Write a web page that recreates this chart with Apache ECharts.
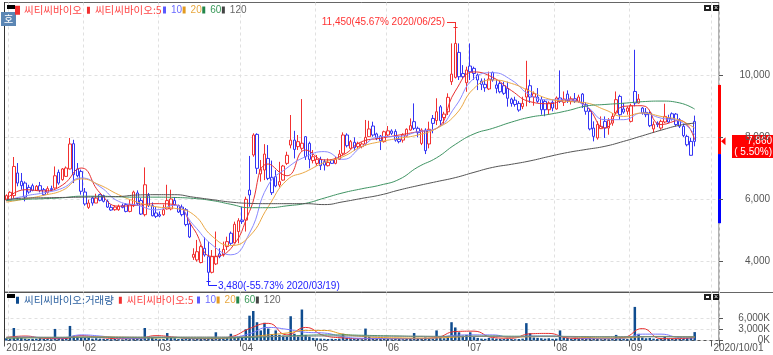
<!DOCTYPE html>
<html>
<head>
<meta charset="utf-8">
<style>html,body{margin:0;padding:0;background:#fff}#chart{width:773px;height:355px}</style>
<script src="https://cdn.jsdelivr.net/npm/echarts@6/dist/echarts.min.js"></script>
</head>
<body>
<div id="chart"></div>
<script>
// trading days per month, the tail after 09/25 is empty room on the axis
const tradingDays = [
  ['2019/12', [30]],
  ['2020/01', [2,3,6,7,8,9,10,13,14,15,16,17,20,21,22,23,28,29,30,31]],
  ['2020/02', [3,4,5,6,7,10,11,12,13,14,17,18,19,20,21,24,25,26,27,28]],
  ['2020/03', [2,3,4,5,6,9,10,11,12,13,16,17,18,19,20,23,24,25,26,27,30,31]],
  ['2020/04', [1,2,3,6,7,8,9,10,13,14,16,17,20,21,22,23,24,27,28,29]],
  ['2020/05', [4,6,7,8,11,12,13,14,15,18,19,20,21,22,25,26,27,28,29]],
  ['2020/06', [1,2,3,4,5,8,9,10,11,12,15,16,17,18,19,22,23,24,25,26,29,30]],
  ['2020/07', [1,2,3,6,7,8,9,10,13,14,15,16,17,20,21,22,23,24,27,28,29,30,31]],
  ['2020/08', [3,4,5,6,7,10,11,12,13,14,18,19,20,21,24,25,26,27,28,31]],
  ['2020/09', [1,2,3,4,7,8,9,10,11,14,15,16,17,18,21,22,23,24,25,28,29,30]],
  ['2020/10', [1,2]]
]
const dates = []
tradingDays.forEach(m => m[1].forEach(d => dates.push(m[0] + '/' + String(d).padStart(2, '0'))))

const tickDates = ['2019/12/30','2020/02/03','2020/03/02','2020/04/01','2020/05/04','2020/06/01','2020/07/01','2020/08/03','2020/09/01','2020/10/01']
const tickLabels = ['2019/12/30','02','03','04','05','06','07','08','09','2020/10/01']
const gridDates = ['2020/01/02','2020/02/03','2020/03/02','2020/04/01','2020/05/04','2020/06/01','2020/07/01','2020/08/03','2020/09/01','2020/10/01']
const priceTicks = [4000, 6000, 8000, 10000]
const volumeTicks = [0, 3000, 6000]

const opens = [5970,5980,6110,6840,6570,6515,6375,6430,6280,6430,
  6300,6215,6335,6355,6860,6625,6730,6970,7785,6970,
  6890,6225,5730,6030,5870,6140,6110,5925,5730,5655,
  5655,5785,5820,5600,5785,6195,5950,5495,6110,5785,
  5550,5495,5495,5680,5680,5950,5785,5740,5655,5195,
  4120,4035,3950,4410,4140,3635,3905,4230,4195,4465,
  4895,4590,4950,5320,5320,6290,7420,8085,6810,6935,
  7310,6700,6720,6450,6610,7150,7740,7900,7690,7635,
  8010,7795,7240,7150,7280,7205,7075,7260,7150,7280,
  7475,8065,7635,7830,7690,7690,7775,8010,8355,8100,
  8030,7850,8065,8195,8180,7925,7900,8030,8225,8495,
  8280,7795,8225,7775,8600,8530,8975,8630,8815,9785,
  9925,10730,10050,9750,10290,10215,10000,9805,9700,9550,
  10085,9680,9730,9655,9570,9225,9190,9085,8980,9290,
  9655,9290,9290,9205,9150,8880,9120,8905,9260,9120,
  9385,9150,9235,9150,9385,9040,8830,8290,7970,8270,
  8505,8290,8450,8775,9310,8905,8830,8505,9470,9095,
  8935,8795,8775,8260,8450,8290,8485,8610,8750,8740,
  8560,8345,8020,7860,8505]
const closes = [6110,6215,7050,6515,6430,6065,6225,6280,6410,6280,
  6140,6335,6300,6750,6515,6970,7000,7775,6785,6750,
  6250,5840,5870,5870,6030,5960,5925,5740,5645,5740,
  5765,5730,5600,5820,6225,5850,5515,6460,5785,5460,
  5440,5450,5655,5950,6000,5820,5580,5495,5175,4775,
  4215,4300,4465,4195,3635,4140,4140,4140,4375,4625,
  4570,5185,5300,5270,5990,6130,8065,6990,6960,7450,
  6665,6205,6420,6560,7065,7410,7900,7600,7850,7800,
  7365,7280,7365,7280,7075,7095,7180,7150,7280,7450,
  8065,7720,7850,7655,7795,7775,7990,8260,8065,7960,
  7880,8170,8200,8120,7900,7850,8065,8250,8365,8280,
  8140,8225,7560,8250,8440,8815,8530,8740,9280,10030,
  11020,9945,9945,10160,10105,10050,9840,9700,9590,9870,
  9840,9570,9460,9410,9250,9085,9050,8870,9085,9550,
  9290,9400,9150,8880,8880,9100,8935,9260,9150,9225,
  9180,9235,9150,9290,9075,8830,8260,8020,8400,8345,
  8290,8540,8665,9205,8720,8805,8935,9010,9095,9225,
  8775,8720,8365,8400,8400,8505,8665,8485,8580,8400,
  8345,8045,7750,7410,7860]
const lows = [5930,5960,6030,6410,6300,5925,6170,6250,6260,6215,
  6110,6170,6250,6335,6460,6590,6710,6950,6515,6700,
  6140,5785,5680,5785,5870,5925,5890,5710,5620,5620,
  5620,5700,5570,5570,5740,5785,5485,5440,5740,5440,
  5385,5410,5460,5660,5635,5785,5550,5440,5120,4740,
  4035,3980,3925,4140,3480,3600,3870,4090,4140,4355,
  4520,4570,4570,5195,4950,5750,7365,6810,6560,6610,
  6610,6130,6380,6380,6590,7100,7635,7310,7580,7560,
  7260,6990,7150,7075,6935,6920,7050,7130,7120,7260,
  7420,7665,7600,7560,7635,7635,7720,8000,8010,7900,
  7580,7820,8030,8065,7850,7795,7820,8010,8200,8225,
  7990,7740,7450,7635,8120,8385,8385,8420,8710,9680,
  9890,9840,9890,9460,9840,9840,9515,9515,9460,9515,
  9785,9410,9410,9360,8980,8980,8980,8815,8900,8990,
  9100,9010,9100,8720,8670,8720,8830,8880,9100,9000,
  9100,9050,9100,9100,8935,8720,8215,7860,7915,8260,
  7970,8075,8365,8720,8560,8750,8720,8470,8990,9075,
  8720,8640,8320,8130,8320,8235,8450,8450,8530,8345,
  8290,8000,7700,7400,7700]
const highs = [6150,6250,7355,7160,6840,6570,6460,6495,6450,6550,
  6355,6410,6430,7050,6950,7000,7050,7970,7910,7160,
  6950,6355,5980,6085,6170,6170,6140,5980,5820,5785,
  5820,5850,5870,5980,6270,6280,6030,7020,6195,5890,
  5740,5600,5820,6460,6300,6065,5820,5820,5710,5230,
  4410,4680,4520,4765,4625,4355,4950,4410,4625,4785,
  4950,5270,5380,5750,6075,7390,8120,8120,7260,7770,
  7740,7240,6930,7200,7100,7525,8710,8200,8065,9225,
  8030,7850,7580,7420,7365,7280,7310,7280,7365,7580,
  8150,8120,7905,7990,7850,7830,8550,8525,8495,8140,
  8065,8205,8355,8250,8250,8010,8120,8280,8600,9085,
  8335,8280,8280,8495,8710,9250,9030,8815,9410,11020,
  11450,11020,10320,10270,11020,10270,10050,9890,9890,10110,
  10110,9840,9840,9785,9785,9270,9300,9160,9300,10460,
  9850,9470,9580,9310,9205,9150,9185,9310,10150,9470,
  9505,9310,9420,9365,9420,9120,8935,8505,8505,8665,
  8665,8610,8775,9470,9365,9100,8990,9075,10815,9385,
  8970,8935,8830,8505,8505,8560,9075,8720,8795,8775,
  8610,8430,8075,7970,8690]

const volumes = [600,500,3350,900,700,500,400,450,500,600,
  450,400,350,3100,800,600,900,3900,1300,1000,
  900,800,700,500,600,500,450,400,350,400,
  350,300,400,350,500,450,400,3350,900,700,
  500,350,400,2000,900,600,400,450,500,400,
  350,500,600,500,700,800,2200,600,500,700,
  1800,800,900,1000,3000,6650,7900,4900,2700,4750,
  3200,1700,2700,1500,1300,1000,6500,1800,1000,8300,
  1500,1000,700,600,500,450,400,450,400,500,
  1800,700,500,450,400,350,3200,1000,700,500,
  450,500,400,350,450,400,350,500,600,2000,
  700,500,800,600,500,2700,900,600,800,4900,
  3500,2200,1300,1500,2200,900,700,500,450,700,
  600,500,450,400,500,400,350,400,500,4650,
  1950,800,700,600,500,600,450,500,2700,800,
  700,500,450,500,600,500,800,500,400,350,
  400,350,450,1500,800,500,400,600,9000,1800,
  800,600,700,500,400,500,1000,500,400,500,
  450,500,700,900,2250]

// moving averages read every 5 trading days, the last one on the final candle
const ma5 = [6000,6300,6260,6450,7000,6200,5770,5800,5850,5820,5050,4150,4400,5600,7130,6750,7580,7260,7420,7850,7960,8065,8170,8280,9480,10100,9925,9500,9140,9075,9200,8990,8290,8990,9010,8400,8540,7915]
const ma10 = [5950,6100,6200,6350,6680,6400,5925,5800,5650,5800,5165,4520,4200,4900,6450,7000,7365,7530,7280,7690,8010,8020,8170,8280,8980,9890,10075,9840,9355,9200,9200,8990,8560,8560,8775,8610,8505,8075]
const ma20 = [5900,6000,6120,6280,6650,6450,6140,5900,5750,5700,5500,4800,4500,4800,5750,6610,6880,7180,7365,7690,7850,7960,8065,8280,8710,9570,9840,9730,9480,9230,9150,9100,8880,8665,8775,8665,8540,8290]
const ma60 = [5950,5990,6010,6040,6090,6090,6070,6060,6060,6050,6020,5950,5830,5720,5720,5780,5860,6030,6200,6330,6450,6635,7030,7330,7760,8100,8280,8480,8640,8730,8850,9000,9050,9090,9140,9160,9100,8900]
const ma120 = [5980,6030,6040,6050,6060,6070,6080,6130,6140,6140,6060,5980,5900,5860,5850,5850,5850,5820,5910,6020,6130,6290,6430,6560,6690,6860,7020,7120,7230,7370,7500,7600,7700,7860,8040,8220,8380,8450]

const vol5 = [800,1200,600,500,1300,800,500,500,1300,900,500,500,1000,3200,4600,1500,3500,1300,700,500,500,500,500,800,2400,2500,800,600,1800,1900,700,500,500,800,3200,500,500,800]
const vol10 = [700,900,800,700,1500,1200,700,600,800,800,600,600,800,1800,3500,3000,2200,2000,1000,600,550,500,550,700,1400,1500,1500,800,1200,1200,1000,600,550,600,1700,1700,800,700]
const vol20 = [700,750,800,800,900,1000,900,800,700,750,700,650,700,1000,1500,2000,2700,2700,1700,1100,800,700,650,700,900,1100,1100,900,1000,1100,1000,800,700,700,1000,1100,1000,900]
const vol60 = [650,700,750,800,850,850,800,750,750,750,700,700,750,850,1000,1200,1400,1500,1500,1400,1300,1200,1100,1100,1100,1150,1200,1150,1150,1150,1100,1050,1000,1000,1050,1050,1000,1000]
const vol120 = [900,900,900,900,950,950,950,950,950,950,950,950,950,1000,1050,1100,1150,1200,1200,1200,1150,1150,1150,1100,1100,1100,1100,1050,1050,1050,1050,1000,1000,1000,1000,1000,1000,1000]

const peak = { date: '2020/06/25', value: 11450, text: '11,450(45.67% 2020/06/25)' }
const trough = { date: '2020/03/19', value: 3480, text: '3,480(-55.73% 2020/03/19)' }
const lastPrice = 7860
const upperLimit = 9680
const prevClose = 7450
const lowerLimit = 5220

const name = '씨티씨바이오'
const red = '#f23030'
const blue = '#3434f4'
const font = '"Liberation Sans", sans-serif'
const krFont = '"Noto Sans CJK KR", sans-serif'

const candles = opens.map((o, i) => [o, closes[i], lows[i], highs[i]])
const sparse = arr => arr.map((v, i) => [dates[Math.min(i * 5, opens.length - 1)], v])
const lineSeries = (seriesName, arr, color, idx) => ({
  name: seriesName, type: 'line', data: sparse(arr), xAxisIndex: idx, yAxisIndex: idx,
  smooth: true, showSymbol: false, silent: true, z: 3,
  lineStyle: { width: 1, color: color }, itemStyle: { color: color }
})

const legendItem = (n, color, textColor) => ({
  name: n, icon: 'rect', itemStyle: { color: color }, textStyle: { color: textColor || color }
})
const legendBase = {
  orient: 'horizontal', selectedMode: false, itemWidth: 3, itemHeight: 7, itemGap: 5, padding: 0,
  textStyle: { fontFamily: krFont, fontSize: 10.5 }
}
const maLegend = [
  legendItem('10', '#5a5aff', '#6a6aff'),
  legendItem('20', '#e39a1f', '#e8a840'),
  legendItem('60', '#22864a', '#3a9a5a'),
  legendItem('120', '#444', '#666')
]
// the period numbers sit closer together than the named entries
const maLegendBase = Object.assign({}, legendBase, {
  itemGap: 0.5, textStyle: { fontFamily: font, fontSize: 10 }, data: maLegend
})

const xAxisBase = {
  type: 'category', data: dates, boundaryGap: true,
  axisLine: { show: false },
  splitLine: {
    show: true,
    interval: (i, v) => gridDates.includes(v),
    lineStyle: { color: '#e0e0e0', type: [3, 3], width: 1 }
  }
}
const yAxisBase = {
  type: 'value', position: 'right', scale: false,
  axisLine: { show: false },
  axisTick: { show: true, length: 4, lineStyle: { color: '#555' } },
  splitLine: { show: true, lineStyle: { color: '#e0e0e0', type: [3, 3], width: 1 } }
}

const chart = echarts.init(document.getElementById('chart'))
chart.setOption({
  animation: false,
  backgroundColor: '#fff',
  textStyle: { fontFamily: font },
  legend: [
    Object.assign({}, legendBase, {
      left: 15, top: 5,
      data: [legendItem(name, red, '#f44'), legendItem(name + ':5', red, '#f44')]
    }),
    Object.assign({}, maLegendBase, { left: 163, top: 5 }),
    Object.assign({}, legendBase, {
      left: 16, top: 295,
      data: [legendItem(name + ':거래량', '#0f4c8f', '#2a5f9f'), legendItem(name + ':5', red, '#f44')]
    }),
    Object.assign({}, maLegendBase, { left: 197, top: 295 })
  ],
  grid: [
    { left: 4.5, width: 716.25, top: 2.5, height: 289.5, show: true, borderColor: '#666', borderWidth: 1 },
    { left: 4.5, width: 716.25, top: 292.5, height: 48, show: true, borderColor: '#555', borderWidth: 1 }
  ],
  xAxis: [
    Object.assign({}, xAxisBase, { gridIndex: 0, axisTick: { show: false }, axisLabel: { show: false } }),
    Object.assign({}, xAxisBase, {
      gridIndex: 1,
      axisTick: { show: true, length: 6, interval: (i, v) => tickDates.includes(v), lineStyle: { color: '#555' } },
      axisLabel: {
        show: true, interval: (i, v) => tickDates.includes(v), align: 'left', margin: 3,
        color: '#555', fontFamily: font, fontSize: 10,
        formatter: v => tickLabels[tickDates.indexOf(v)]
      }
    })
  ],
  yAxis: [
    Object.assign({}, yAxisBase, {
      gridIndex: 0, min: 3000, max: 12340,
      axisTick: Object.assign({}, yAxisBase.axisTick, { customValues: priceTicks }),
      axisLabel: {
        customValues: priceTicks, align: 'right', margin: 51, color: '#555', fontFamily: font, fontSize: 10,
        formatter: v => v.toLocaleString('en-US')
      }
    }),
    Object.assign({}, yAxisBase, {
      gridIndex: 1, min: 0, max: 12860,
      axisTick: Object.assign({}, yAxisBase.axisTick, { customValues: volumeTicks }),
      axisLabel: {
        customValues: volumeTicks, align: 'right', margin: 51, color: '#555', fontFamily: font, fontSize: 10,
        formatter: v => v.toLocaleString('en-US') + 'K'
      }
    })
  ],
  series: [
    {
      name: name, type: 'candlestick', data: candles, xAxisIndex: 0, yAxisIndex: 0, barWidth: 3, silent: true, z: 2,
      itemStyle: { color: '#fff', color0: '#fff', borderColor: red, borderColor0: blue, borderWidth: 1 }
    },
    lineSeries(name + ':5', ma5, '#e83030', 0),
    lineSeries('10', ma10, '#8a8aff', 0),
    lineSeries('20', ma20, '#eba845', 0),
    lineSeries('60', ma60, '#3f9463', 0),
    lineSeries('120', ma120, '#555', 0),
    {
      name: name + ':거래량', type: 'bar', data: volumes, xAxisIndex: 1, yAxisIndex: 1, barWidth: 2.5, silent: true, z: 2,
      itemStyle: { color: '#0f4c8f' }
    },
    lineSeries(name + ':5', vol5, '#e83030', 1),
    lineSeries('10', vol10, '#7a7aff', 1),
    lineSeries('20', vol20, '#e39a1f', 1),
    lineSeries('60', vol60, '#3f9463', 1),
    lineSeries('120', vol120, '#888', 1)
  ]
})

// overlay: annotations, price box and the small chart window buttons
function windowButtons(y) {
  return [
    { type: 'rect', shape: { x: 704, y: y, width: 7, height: 6 }, style: { fill: '#222' } },
    { type: 'rect', shape: { x: 706, y: y + 2, width: 3, height: 2 }, style: { fill: '#fff' } },
    { type: 'rect', shape: { x: 713, y: y, width: 6, height: 6 }, style: { fill: '#111' } },
    { type: 'text', x: 716, y: y + 3, style: { text: '×', fill: '#fff', fontSize: 7, fontFamily: font, align: 'center', verticalAlign: 'middle' } }
  ]
}
function hline(x1, x2, y, color) {
  return { type: 'line', shape: { x1: x1, y1: y, x2: x2, y2: y }, style: { stroke: color, lineWidth: 1 } }
}
function vline(x, y1, y2, color, w) {
  return { type: 'line', shape: { x1: x, y1: y1, x2: x, y2: y2 }, style: { stroke: color, lineWidth: w || 1 } }
}
function priceY(v) {
  return chart.convertToPixel({ yAxisIndex: 0 }, v)
}

const peakAt = chart.convertToPixel({ seriesIndex: 0 }, [peak.date, peak.value])
const troughAt = chart.convertToPixel({ seriesIndex: 0 }, [trough.date, trough.value])
const lastY = priceY(lastPrice)
const px = Math.round(peakAt[0]) + 0.5
const tx = Math.round(troughAt[0]) + 0.5

chart.setOption({
  graphic: [
    // left edge and the divider that runs on past the plot
    vline(4.5, 2, 341, '#333'),
    hline(720, 773, 292.5, '#666'),
    // the axis closes with a tick of its own at the far end, not in the reference
    { type: 'rect', shape: { x: 718, y: 341.5, width: 4, height: 7 }, style: { fill: '#fff' } },
    // top left markers
    { type: 'rect', shape: { x: 7, y: 5, width: 8, height: 4 }, style: { fill: '#000' } },
    { type: 'rect', shape: { x: 7, y: 294, width: 8, height: 4 }, style: { fill: '#000' } },
    { type: 'rect', shape: { x: 1, y: 12, width: 15, height: 14 }, style: { fill: '#5b86b4' } },
    { type: 'text', x: 8.5, y: 19, style: { text: '호', fill: '#fff', fontSize: 10, fontFamily: krFont, align: 'center', verticalAlign: 'middle' } },
    ...windowButtons(5),
    ...windowButtons(294),
    // peak note
    { type: 'text', x: 445, y: 22, style: { text: peak.text, fill: '#f33', fontSize: 10, fontFamily: font, align: 'right', verticalAlign: 'middle' } },
    hline(447, px, 22.5, red),
    vline(px, 22, peakAt[1], red),
    hline(px - 2, px + 2, 27.5, red),
    // trough note
    { type: 'text', x: 218, y: 286, style: { text: trough.text, fill: '#22f', fontSize: 10, fontFamily: font, align: 'left', verticalAlign: 'middle' } },
    vline(tx, troughAt[1], 285.5, '#22f'),
    hline(tx, 217, 285.5, '#22f'),
    hline(tx - 2, tx + 2, 281.5, '#22f'),
    // daily limit bar on the axis
    vline(719.5, priceY(upperLimit), priceY(prevClose), '#f00', 3),
    vline(719.5, priceY(prevClose), priceY(lowerLimit), '#00f', 3),
    // last price marker and box
    { type: 'polygon', shape: { points: [[721, lastY], [725.5, lastY - 4], [725.5, lastY + 4]] }, style: { fill: '#f00' } },
    { type: 'rect', shape: { x: 732, y: 135, width: 41, height: 23 }, style: { fill: '#f00' } },
    { type: 'text', x: 772, y: 141, style: { text: '7,860', fill: '#fff', fontSize: 10, fontFamily: font, align: 'right', verticalAlign: 'middle' } },
    { type: 'text', x: 772, y: 152, style: { text: '( 5.50%)', fill: '#fff', fontSize: 10, fontFamily: font, align: 'right', verticalAlign: 'middle' } }
  ]
})
</script>
</body>
</html>
